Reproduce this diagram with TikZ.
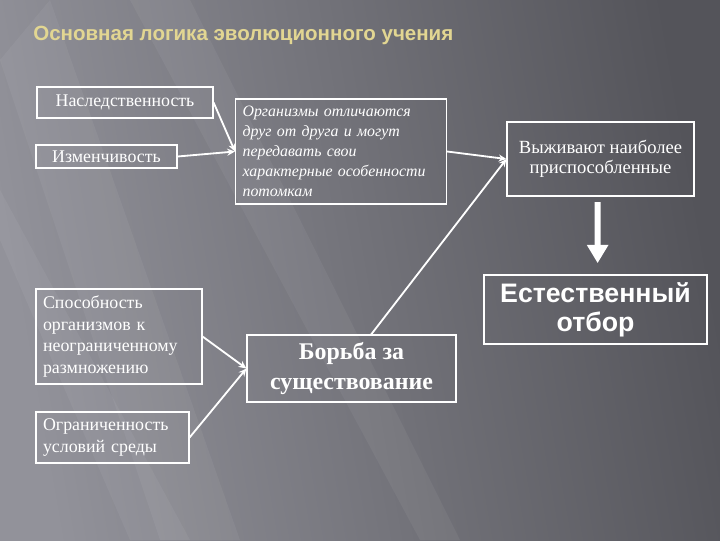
\documentclass[tikz,border=0pt]{standalone}
\usepackage{fontspec}
\setmainfont{Liberation Serif}
\setsansfont{Liberation Sans}
\usetikzlibrary{arrows.meta,positioning}
\definecolor{titlegold}{RGB}{226,214,146}
\definecolor{bgleft}{RGB}{146,146,154}
\definecolor{bgright}{RGB}{84,84,90}
\newcommand{\boxfont}{\fontsize{12.7}{15.5}\selectfont}

\begin{document}
\begin{tikzpicture}[
    x=0.025cm, y=-0.025cm,
    box/.style={draw=white, line width=0.8pt, text=white, inner sep=0pt, align=center, font=\boxfont},
    leftbox/.style={box, align=left, inner xsep=5pt},
    link/.style={draw=white, line width=1.3pt, -{Stealth[length=5.5pt,width=5pt]}},
    bigarrow/.style={draw=white, line width=4.3pt, -{Triangle[length=13pt,width=14.5pt]}},
    streak/.style={fill=white, opacity=0.05}
]
    % Background
    \shade[left color=bgleft, right color=bgright, shading angle=100] (0,0) rectangle (720,540);
    \fill[streak] (0,60) -- (50,0) -- (240,540) -- (160,540) -- cycle;
    \fill[streak] (0,240) -- (0,190) -- (190,540) -- (130,540) -- cycle;
    \fill[streak] (130,0) -- (190,0) -- (460,540) -- (420,540) -- cycle;
    \useasboundingbox (0,0) rectangle (720,540);

    % Title
    \node[anchor=west, text=titlegold, font=\sffamily\bfseries\fontsize{14.6}{16}\selectfont, inner sep=0pt] (title) at (33,35) {Основная логика эволюционного учения};

    % Left column
    \node[box, minimum width=125.2pt, minimum height=22pt] (hered) at (125,102.5) {Наследственность};
    \node[box, minimum width=100.3pt, minimum height=16.4pt] (var) at (106.5,156.5) {Изменчивость};
    \node[leftbox, text width=108pt, minimum height=67.6pt] (repro) at (119,336.5) {Способность\\организмов к\\неограниченному\\размножению};
    \node[leftbox, text width=98.8pt, minimum height=36.3pt] (limit) at (112.5,437.5) {Ограниченность\\условий среды};

    % Middle column
    \node[leftbox, text width=140pt, minimum height=74.7pt, font=\itshape\fontsize{11.3}{14.2}\selectfont] (org) at (341,151.5) {Организмы отличаются\\друг от друга и могут\\передавать свои\\характерные особенности\\потомкам};
    \node[box, minimum width=148.7pt, minimum height=47.7pt, font=\bfseries\fontsize{17}{22}\selectfont] (struggle) at (351.5,368.5) {Борьба за\\существование};

    % Right column
    \node[box, minimum width=133pt, minimum height=52.6pt, font=\fontsize{13.2}{14.5}\selectfont] (surv) at (600.5,159) {Выживают наиболее\\приспособленные};
    \node[box, minimum width=158.6pt, minimum height=49.1pt, font=\sffamily\bfseries\fontsize{19}{20.5}\selectfont] (natsel) at (595.5,309.5) {Естественный\\отбор};

    % Connectors
    \draw[link] (hered.east) -- (org.west);
    \draw[link] (var.east) -- (org.west);
    \draw[link] (org.east) -- (surv.west);
    \draw[link] ([xshift=14pt]struggle.north) -- (surv.west);
    \draw[link] (repro.east) -- (struggle.west);
    \draw[link] (limit.east) -- (struggle.west);
    \draw[bigarrow, shorten <=4pt, shorten >=8pt] ([xshift=-2pt]surv.south) -- ([xshift=1.5pt]natsel.north);

\end{tikzpicture}
\end{document}
